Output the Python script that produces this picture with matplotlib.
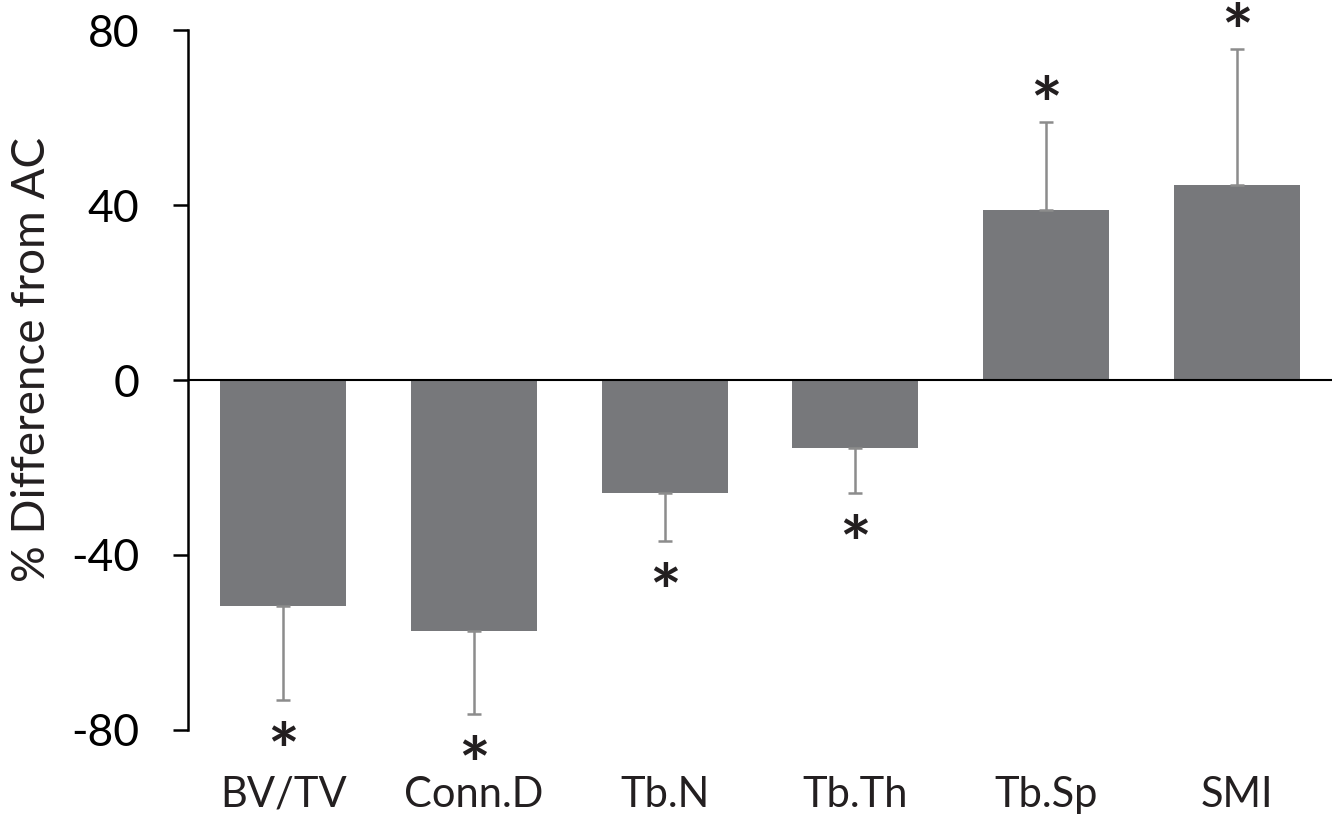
import numpy as np
from matplotlib import pyplot as plt

categories = ["BV/TV", "Conn.D", "Tb.N", "Tb.Th", "Tb.Sp", "SMI"]
pct_diff = [-51.6, -57.4, -25.8, -15.5, 38.9, 44.6]
err = [21.5, 18.9, 11.0, 10.3, 20.1, 31.1]
significant = [True, True, True, True, True, True]

plt.rcParams["font.family"] = ["Lato", "DejaVu Sans"]
plt.rcParams["axes.unicode_minus"] = False

fig = plt.figure(figsize=(13.38, 8.18), dpi=100)
ax = fig.add_axes([0.1405, 0.1076, 0.855, 0.8557])

x = np.arange(len(categories))
vals = np.array(pct_diff)
errs = np.array(err)
lower = np.where(vals < 0, errs, 0)
upper = np.where(vals > 0, errs, 0)

ax.bar(x, vals, width=0.66, color="#77787b", zorder=2)
ax.errorbar(x, vals, yerr=[lower, upper], fmt="none", ecolor="#8c8c8c",
            elinewidth=1.8, capsize=5, capthick=1.8, zorder=3)

# significance stars, placed past the end of each error bar
for xi, v, e, sig in zip(x, vals, errs, significant):
    if not sig:
        continue
    if v < 0:
        ax.annotate("*", (xi, v - e), xytext=(0, -40), textcoords="offset points",
                    ha="center", va="center", fontsize=54, fontweight="bold",
                    color="#231f20", annotation_clip=False)
    else:
        ax.annotate("*", (xi, v + e), xytext=(0, 9), textcoords="offset points",
                    ha="center", va="center", fontsize=54, fontweight="bold",
                    color="#231f20", annotation_clip=False)

ax.axhline(0, color="black", linewidth=1.5, zorder=4)

ax.set_xlim(-0.5, 5.5)
ax.set_ylim(-80, 80)
ax.set_yticks([-80, -40, 0, 40, 80])
ax.set_xticks(x)
ax.set_xticklabels(categories)

for s in ["top", "right", "bottom"]:
    ax.spines[s].set_visible(False)
ax.spines["left"].set_linewidth(1.8)

ax.tick_params(axis="y", length=11, width=1.8, pad=24, labelsize=32, colors="black")
ax.tick_params(axis="x", length=0, pad=33, labelsize=30, colors="#231f20")

ax.set_ylabel("% Difference from AC", fontsize=33, color="#231f20")
ax.yaxis.set_label_coords(-0.118, 0.53)

plt.savefig("out.png", dpi=100)
plt.close()
